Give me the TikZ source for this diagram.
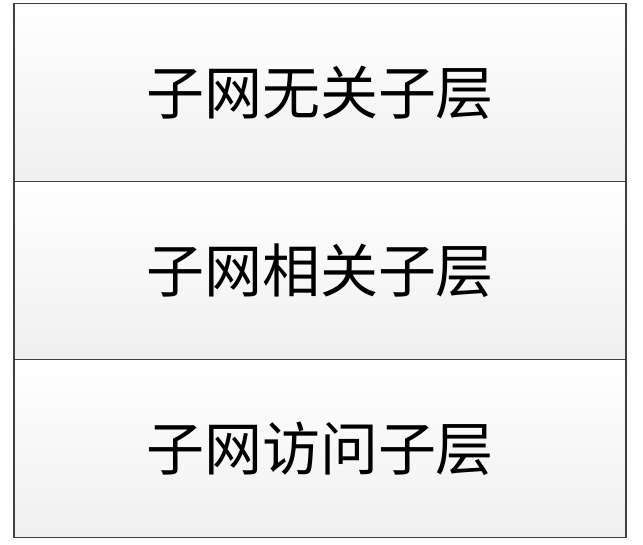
\documentclass[tikz,border=0pt]{standalone}
\usepackage{fontspec}
\newfontfamily\cjk{Noto Sans CJK SC}
\begin{document}
\begin{tikzpicture}[x=1pt,y=1pt,
  layerbox/.style={draw=black!75, line width=1.2pt, top color=white, bottom color=black!6, minimum width=612pt, minimum height=178pt, inner sep=0pt, font=\cjk\fontsize{58}{62}\selectfont}]
\useasboundingbox (0,0) rectangle (643,544);
\node[layerbox] (l1) at (320,451.5) {子网无关子层};
\node[layerbox] (l2) at (320,273.5) {子网相关子层};
\node[layerbox] (l3) at (320,95.5) {子网访问子层};
\end{tikzpicture}
\end{document}
